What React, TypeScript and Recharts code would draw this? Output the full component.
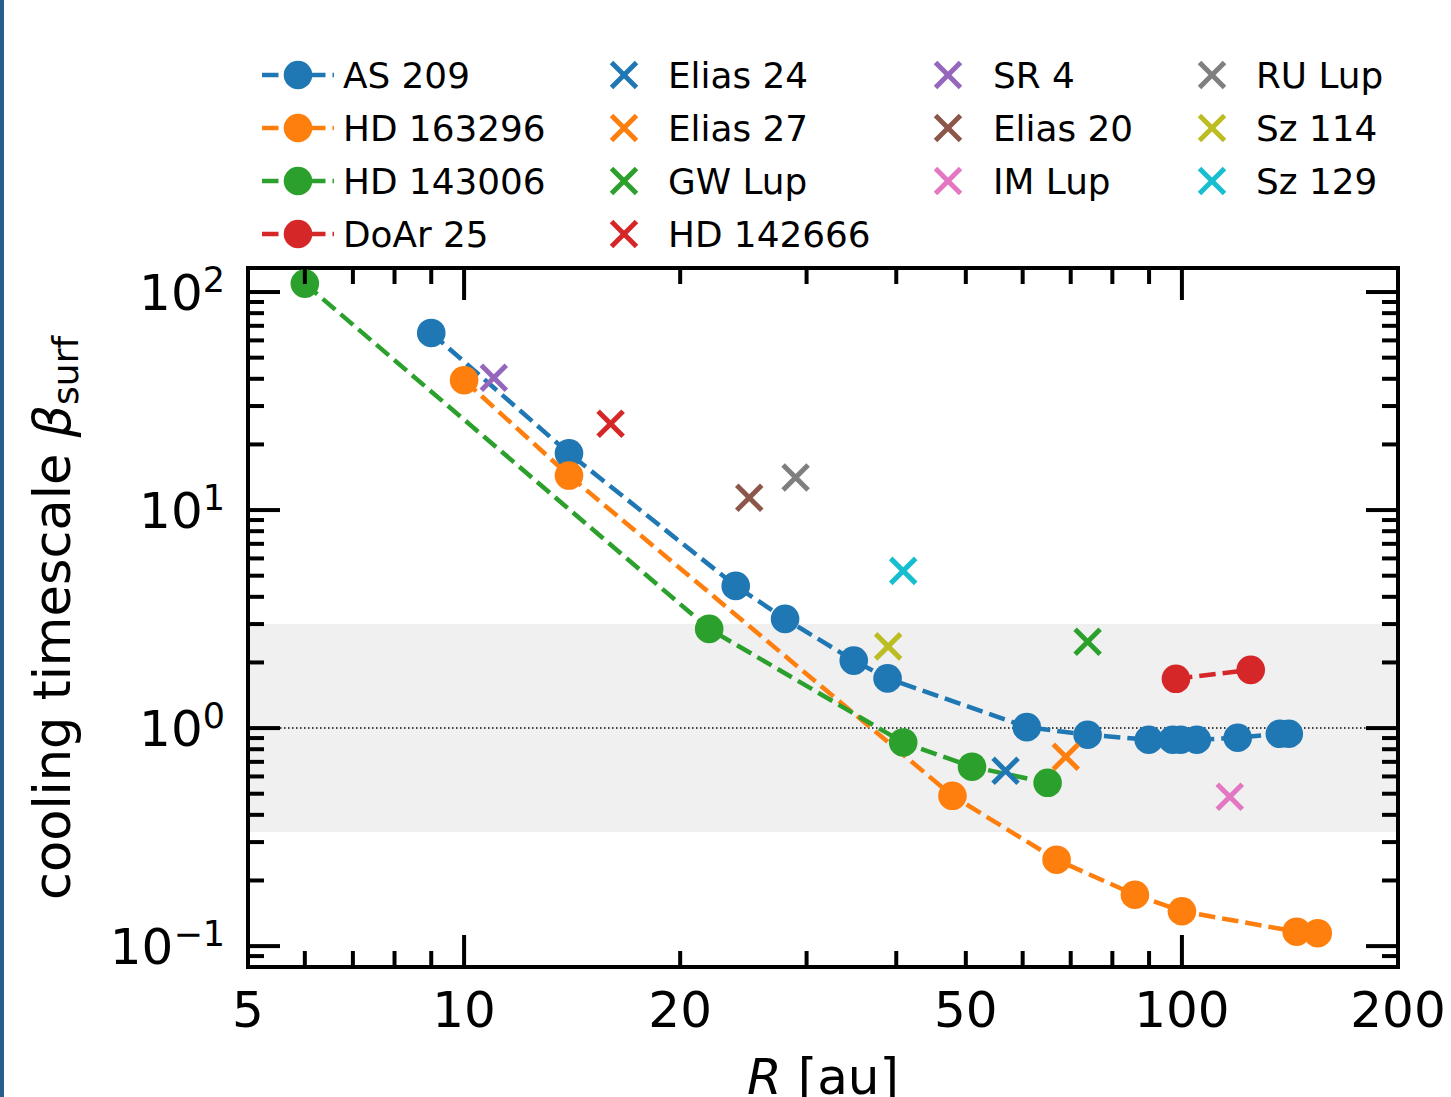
import React from "react";
import {
  ComposedChart,
  Line,
  Scatter,
  XAxis,
  YAxis,
  ReferenceArea,
  ReferenceLine,
} from "recharts";

const FONT = "'DejaVu Sans', sans-serif";

// page and axes box in pixels (same layout as the matplotlib figure)
const W = 1451;
const H = 1097;
const PL = 248;
const PR = 1398;
const PT = 268;
const PB = 967;

const X_DOMAIN = [5, 200];
const Y_DOMAIN = [0.0802, 128.9];

// disks with a radial profile: R [au] -> beta_surf
const as209R = [9.0, 14.0, 23.9, 28.0, 34.9, 38.9, 60.8, 73.9, 89.9, 97.1, 99.6, 104.9, 119.6, 136.9, 140.9];
const as209Beta = [64.9, 18.2, 4.49, 3.17, 2.04, 1.69, 1.01, 0.932, 0.884, 0.884, 0.884, 0.884, 0.903, 0.942, 0.942];

const hd163296R = [10.0, 14.0, 47.9, 66.9, 86.0, 100.0, 144.5, 154.6];
const hd163296Beta = [39.4, 14.4, 0.489, 0.249, 0.172, 0.1445, 0.1164, 0.1146];

const hd143006R = [6.0, 21.95, 40.9, 51.0, 65.0];
const hd143006Beta = [109.3, 2.85, 0.859, 0.665, 0.561];

const doar25R = [98.1, 124.7];
const doar25Beta = [1.683, 1.85];

const LINE_NAMES = ["AS 209", "HD 163296", "HD 143006", "DoAr 25"];
const LINE_COLORS = ["#1f77b4", "#ff7f0e", "#2ca02c", "#d62728"];
const LINE_R = [as209R, hd163296R, hd143006R, doar25R];
const LINE_BETA = [as209Beta, hd163296Beta, hd143006Beta, doar25Beta];

// single-radius disks (crosses)
const CROSS_NAMES = ["Elias 24", "Elias 27", "GW Lup", "HD 142666", "SR 4", "Elias 20", "IM Lup", "RU Lup", "Sz 114", "Sz 129"];
const CROSS_COLORS = ["#1f77b4", "#ff7f0e", "#2ca02c", "#d62728", "#9467bd", "#8c564b", "#e377c2", "#7f7f7f", "#bcbd22", "#17becf"];
const CROSS_R = [56.8, 68.9, 73.9, 16.0, 11.0, 24.96, 116.6, 28.96, 38.97, 40.9];
const CROSS_BETA = [0.637, 0.739, 2.49, 24.9, 40.4, 11.4, 0.484, 14.1, 2.37, 5.26];

const X_TICKS = [5, 6, 7, 8, 9, 10, 20, 30, 40, 50, 60, 70, 80, 90, 100, 200];
const X_LABELS = [5, 10, 20, 50, 100, 200];
const Y_TICKS = [
  0.09, 0.1, 0.2, 0.3, 0.4, 0.5, 0.6, 0.7, 0.8, 0.9,
  1, 2, 3, 4, 5, 6, 7, 8, 9,
  10, 20, 30, 40, 50, 60, 70, 80, 90, 100,
];

const BAND = [1 / 3, 3];

const LW = 4.5;
const DASH = "16.5 7";
const DOT_R = 14.3;

const lineSeries = LINE_NAMES.map((name, i) => ({
  name,
  color: LINE_COLORS[i],
  data: LINE_R[i].map((R, j) => ({ R, beta: LINE_BETA[i][j] })),
}));

const crossSeries = CROSS_NAMES.map((name, i) => ({
  name,
  color: CROSS_COLORS[i],
  data: [{ R: CROSS_R[i], beta: CROSS_BETA[i] }],
}));

const isPow10 = (v: number) => {
  const e = Math.log10(v);
  return Math.abs(e - Math.round(e)) < 1e-6;
};

function YTick(props: any) {
  const { y, payload } = props;
  const v = payload.value;
  const major = isPow10(v);
  const len = major ? 32 : 16;
  const exp = Math.round(Math.log10(v));
  return (
    <g>
      <line x1={PL} x2={PL + len} y1={y} y2={y} stroke="#000" strokeWidth={4} />
      <line x1={PR - len} x2={PR} y1={y} y2={y} stroke="#000" strokeWidth={4} />
      {major && (
        <text x={225} y={y + 18} textAnchor="end" fontFamily={FONT} fontSize={50} fill="#000">
          10
          <tspan fontSize={35} dy={-18}>
            {exp < 0 ? "\u2212" + Math.abs(exp) : String(exp)}
          </tspan>
        </text>
      )}
    </g>
  );
}

function XTick(props: any) {
  const { x, payload } = props;
  const v = payload.value;
  const len = isPow10(v) ? 32 : 16;
  return (
    <g>
      <line x1={x} x2={x} y1={PB} y2={PB - len} stroke="#000" strokeWidth={4} />
      <line x1={x} x2={x} y1={PT} y2={PT + len} stroke="#000" strokeWidth={4} />
      {X_LABELS.includes(v) && (
        <text x={x} y={1027} textAnchor="middle" fontFamily={FONT} fontSize={50} fill="#000">
          {v}
        </text>
      )}
    </g>
  );
}

const makeCross = (color: string, s = 12.5) => (p: any) => {
  const { cx, cy } = p;
  if (cx == null || cy == null) return <g />;
  return (
    <g>
      <line x1={cx - s} y1={cy - s} x2={cx + s} y2={cy + s} stroke={color} strokeWidth={5} />
      <line x1={cx - s} y1={cy + s} x2={cx + s} y2={cy - s} stroke={color} strokeWidth={5} />
    </g>
  );
};

const LEG_COL_HANDLE = [298, 624, 948, 1212];
const LEG_COL_TEXT = [343, 668, 993, 1256];
const LEG_COL_SIZE = [4, 4, 3, 3];
const LEG_ROW0 = 75;
const LEG_ROW_STEP = 53;

function LegendOverlay() {
  const entries = [
    ...lineSeries.map((s) => ({ ...s, kind: "line" })),
    ...crossSeries.map((s) => ({ ...s, kind: "cross" })),
  ];
  const items: React.ReactNode[] = [];
  let idx = 0;
  LEG_COL_SIZE.forEach((n, c) => {
    for (let r = 0; r < n; r++) {
      const e = entries[idx++];
      const cy = LEG_ROW0 + r * LEG_ROW_STEP;
      const hx = LEG_COL_HANDLE[c];
      items.push(
        <g key={e.name}>
          {e.kind === "line" ? (
            <g>
              <line x1={hx - 36} x2={hx + 36} y1={cy} y2={cy} stroke={e.color} strokeWidth={LW} strokeDasharray={DASH} />
              <circle cx={hx} cy={cy} r={DOT_R} fill={e.color} />
            </g>
          ) : (
            makeCross(e.color)({ cx: hx, cy })
          )}
          <text x={LEG_COL_TEXT[c]} y={cy + 12.5} fontFamily={FONT} fontSize={35.8} fill="#000">
            {e.name}
          </text>
        </g>
      );
    }
  });
  return <g>{items}</g>;
}

export default function App() {
  return (
    <div style={{ position: "absolute", left: 0, top: 0, width: W, height: H, background: "#fff" }}>
      <div style={{ position: "absolute", left: 0, top: 0, width: 4, height: H, background: "#245f8e" }} />
      <div style={{ position: "absolute", left: 0, top: 0 }}>
        <ComposedChart
          width={W}
          height={H}
          margin={{ top: PT, left: PL - 1, right: W - PR, bottom: H - PB - 1 }}
        >
          <XAxis
            type="number"
            dataKey="R"
            scale="log"
            domain={X_DOMAIN}
            allowDataOverflow
            ticks={X_TICKS}
            interval={0}
            height={1}
            tickSize={0}
            tickMargin={0}
            axisLine={false}
            tick={<XTick />}
          />
          <YAxis
            type="number"
            dataKey="beta"
            scale="log"
            domain={Y_DOMAIN}
            allowDataOverflow
            ticks={Y_TICKS}
            interval={0}
            width={1}
            tickSize={0}
            tickMargin={0}
            axisLine={false}
            tick={<YTick />}
          />
          <ReferenceArea
            x1={X_DOMAIN[0]}
            x2={X_DOMAIN[1]}
            y1={BAND[0]}
            y2={BAND[1]}
            fill="#f0f0f0"
            fillOpacity={1}
            stroke="none"
          />
          <ReferenceLine y={1} stroke="#000" strokeWidth={1.5} strokeDasharray="1.5 2.5" />
          {lineSeries.map((s) => (
            <Line
              key={s.name}
              name={s.name}
              data={s.data}
              dataKey="beta"
              stroke={s.color}
              strokeWidth={LW}
              strokeDasharray={DASH}
              dot={{ r: DOT_R, fill: s.color, stroke: s.color, strokeWidth: 0 }}
              activeDot={false}
              isAnimationActive={false}
            />
          ))}
          {crossSeries.map((s) => (
            <Scatter
              key={s.name}
              name={s.name}
              data={s.data}
              dataKey="beta"
              fill={s.color}
              shape={makeCross(s.color)}
              isAnimationActive={false}
            />
          ))}
          <ReferenceArea
            x1={X_DOMAIN[0]}
            x2={X_DOMAIN[1]}
            y1={Y_DOMAIN[0]}
            y2={Y_DOMAIN[1]}
            fill="none"
            stroke="#000"
            strokeWidth={4}
            ifOverflow="visible"
          />
        </ComposedChart>
      </div>
      <svg
        width={W}
        height={H}
        style={{ position: "absolute", left: 0, top: 0, pointerEvents: "none" }}
      >
        <LegendOverlay />
        <text
          x={-900}
          y={70}
          transform="rotate(-90)"
          fontFamily={FONT}
          fontSize={51}
          fill="#000"
        >
          cooling timescale <tspan fontStyle="italic">β</tspan>
          <tspan fontSize={36} dy={8}>surf</tspan>
        </text>
        <text x={823} y={1094} textAnchor="middle" fontFamily={FONT} fontSize={50} fill="#000">
          <tspan fontStyle="italic">R</tspan> [au]
        </text>
      </svg>
    </div>
  );
}
